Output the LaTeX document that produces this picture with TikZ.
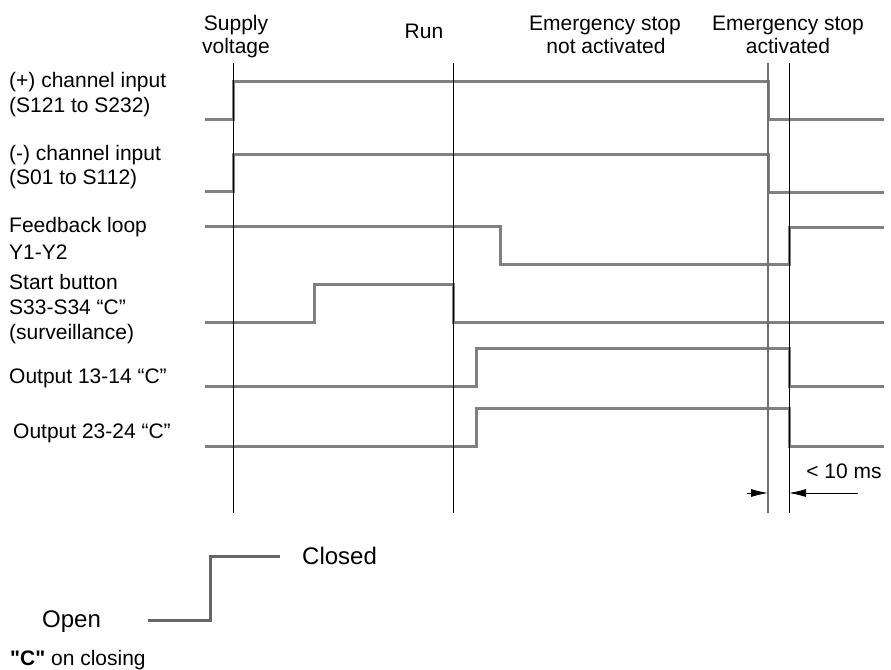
\documentclass[tikz,border=0pt]{standalone}
\usepackage{fontspec}
\setmainfont{Liberation Sans}
\usetikzlibrary{arrows.meta}
\definecolor{sig}{HTML}{808080}
\definecolor{edge}{HTML}{707070}
\definecolor{legendline}{HTML}{666666}
% straight double quote, set as a glyph so the TeX mapping leaves it alone
\newcommand{\straightdq}{\XeTeXglyph\the\XeTeXcharglyph"22\relax}
\begin{document}
\begin{tikzpicture}[x=1pt,y=-1pt,
  signal/.style={draw=sig, line width=3pt, line join=miter},
  marker/.style={draw=black, line width=0.8pt},
  greymarker/.style={draw=edge, line width=1.2pt},
  lbl/.style={anchor=base west, inner sep=0pt, font=\fontsize{21}{24}\selectfont},
  biglbl/.style={anchor=base west, inner sep=0pt, font=\fontsize{24}{28}\selectfont},
  hdr/.style={anchor=base, inner sep=0pt, font=\fontsize{21}{24}\selectfont},
  dim/.style={draw=black, line width=0.8pt, -{Latex[length=17pt,width=8pt]}},
  legendstep/.style={draw=legendline, line width=3pt, line join=miter}]
\useasboundingbox (0,0) rectangle (891,669);

% column headings
\node[hdr] (sup1) at (236,31) {Supply};
\node[hdr] (sup2) at (236,53) {voltage};
\node[hdr] (run)  at (424,38) {Run};
\node[hdr] (nac1) at (605,31) {Emergency stop};
\node[hdr] (nac2) at (606,53) {not activated};
\node[hdr] (act1) at (788,31) {Emergency stop};
\node[hdr] (act2) at (788,53) {activated};

% row labels
\node[lbl] (pin1) at (9,88)   {(+) channel input};
\node[lbl] (pin2) at (9,112)  {(S121 to S232)};
\node[lbl] (min1) at (9,160)  {(-) channel input};
\node[lbl] (min2) at (9,184)  {(S01 to S112)};
\node[lbl] (fb1)  at (9,232)  {Feedback loop};
\node[lbl] (fb2)  at (9,259)  {Y1-Y2};
\node[lbl] (st1)  at (9,289)  {Start button};
\node[lbl] (st2)  at (9,314)  {S33-S34 “C”};
\node[lbl] (st3)  at (9,339)  {(surveillance)};
\node[lbl] (o13)  at (9,383)  {Output 13-14 “C”};
\node[lbl] (o23)  at (13,438) {Output 23-24 “C”};

% signal traces
\draw[signal] (205,119) -| (233,81)  -| (768,119) -- (884,119);
\draw[signal] (205,191) -| (233,154) -| (768,192) -- (884,192);
\draw[signal] (205,226) -| (500,264) -| (789,227) -- (884,227);
\draw[signal] (205,322) -| (314,284) -| (453,322) -- (884,322);
\draw[signal] (205,386) -| (476,348) -| (789,386) -- (884,386);
\draw[signal] (205,446) -| (476,408) -| (789,446) -- (884,446);

% phase markers
\coordinate (m1t) at (233,63);  \coordinate (m1b) at (233,513);
\coordinate (m2t) at (453,63);  \coordinate (m2b) at (453,513);
\coordinate (m3t) at (768,63);  \coordinate (m3b) at (768,513);
\coordinate (m4t) at (789,63);  \coordinate (m4b) at (789,513);
\draw[marker] (m1t) -- (m1b);
\draw[marker] (m2t) -- (m2b);
\draw[greymarker] (m3t) -- (m3b);
\draw[marker] (m4t) -- (m4b);

% response time dimension
\coordinate (dl) at (747,493);
\coordinate (dr) at (858,493);
\draw[dim] (dl) -- (m3t |- dl);
\draw[dim] (dr) -- (m4t |- dr);
\node[hdr] (tms) at (844,478) {< 10 ms};

% legend
\node[biglbl] (closed) at (302,564) {Closed};
\node[biglbl] (open)   at (42,627)  {Open};
\node[lbl] (onclose) at (10,665) {\textbf{\straightdq C\straightdq} on closing};
\draw[legendstep] (148,620) -| (210,556) -- (280,556);
\end{tikzpicture}
\end{document}
